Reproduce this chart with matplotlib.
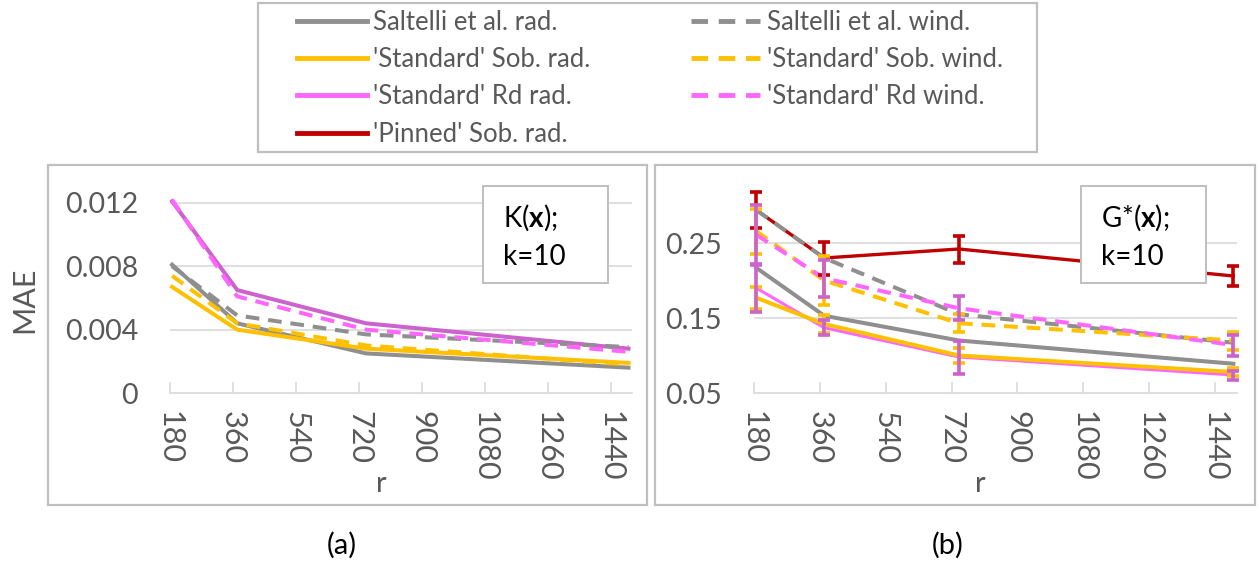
import matplotlib.pyplot as plt
import numpy as np
from matplotlib.lines import Line2D
from matplotlib.patches import Rectangle

plt.rcParams['font.family'] = ['Lato', 'DejaVu Sans']
plt.rcParams['mathtext.fontset'] = 'custom'
plt.rcParams['mathtext.rm'] = 'Lato'
plt.rcParams['mathtext.bf'] = 'Lato:bold'

# ---- datos ----
r = [186, 372, 740, 1490]
xticks = [180, 360, 540, 720, 900, 1080, 1260, 1440]

# (a) K(x), k=10
K_salt_rad = [0.0081, 0.0044, 0.0025, 0.0016]
K_salt_wind = [0.0080, 0.0049, 0.0037, 0.0029]
K_sob_rad = [0.0067, 0.0040, 0.0028, 0.0019]
K_sob_wind = [0.0074, 0.0044, 0.0030, 0.0018]
K_rd_rad = [0.0121, 0.0065, 0.0044, 0.0028]
K_rd_wind = [0.0122, 0.0061, 0.0040, 0.0026]

# (b) G*(x), k=10
G_salt_rad = [0.217, 0.153, 0.120, 0.089]
G_salt_wind = [0.294, 0.230, 0.155, 0.117]
G_sob_rad = [0.177, 0.142, 0.100, 0.078]
G_sob_wind = [0.266, 0.200, 0.143, 0.120]
G_rd_rad = [0.190, 0.137, 0.098, 0.074]
G_rd_wind = [0.261, 0.203, 0.163, 0.114]
G_pin_rad = [0.294, 0.230, 0.242, 0.206]

# barras de error
G_sob_rad_err = [0.015, 0.012, 0.010, 0.005]
G_sob_wind_err = [0.030, 0.033, 0.012, 0.012]
G_rd_rad_err = [0.032, 0.010, 0.022, 0.006]
G_rd_wind_err = [0.040, 0.025, 0.016, 0.014]
G_pin_rad_err = [0.024, 0.022, 0.018, 0.013]

labels = ["Saltelli et al. rad.", "'Standard' Sob. rad.", "'Standard' Rd rad.",
          "'Pinned' Sob. rad.", "Saltelli et al. wind.", "'Standard' Sob. wind.",
          "'Standard' Rd wind."]

GRIS = '#8F8F8F'
AMARILLO = '#FFC000'
ROSA = '#FF66FF'
ORQUIDEA = '#CC62CC'
ROJO = '#C00000'
TEXTO = '#595959'
BORDE = '#BFBFBF'
GRILLA = '#D9D9D9'
guion = (0, (3.4, 2.2))

W, H = 1259, 563
fig = plt.figure(figsize=(W / 100, H / 100), dpi=100)

def fx(px):
    return px / W

def fy(py):
    return 1 - py / H

# marcos de los paneles y de la leyenda
for x0, x1, y0, y1 in [(48, 647, 165, 505), (655, 1255, 165, 505), (258, 1037, 3, 152)]:
    fig.patches.append(Rectangle((fx(x0), fy(y1)), fx(x1 - x0), (y1 - y0) / H,
                                 transform=fig.transFigure, fill=False,
                                 edgecolor=BORDE, lw=1.6))

ax1 = fig.add_axes([fx(170), fy(393), fx(462), (393 - 195) / H])
ax2 = fig.add_axes([fx(754), fy(393), fx(483), (393 - 190.5) / H])

def estilo(ax, yticks, fmt):
    ax.set_xlim(180, 1500)
    ax.set_xticks(xticks)
    ax.set_xticklabels([str(t) for t in xticks], rotation=-90)
    ax.set_yticks(yticks)
    ax.set_yticklabels([fmt(v) for v in yticks])
    for s in ['top', 'right', 'left']:
        ax.spines[s].set_visible(False)
    ax.spines['bottom'].set_color(GRILLA)
    ax.spines['bottom'].set_linewidth(1.2)
    ax.tick_params(axis='x', direction='in', length=8, color=GRILLA, width=1.2,
                   labelsize=22, labelcolor=TEXTO, pad=13)
    ax.tick_params(axis='y', length=0, labelsize=20.5, labelcolor=TEXTO, pad=23)
    for v in yticks[1:]:
        ax.axhline(v, color=GRILLA, lw=1.2, zorder=0)
    ax.set_facecolor('none')

# ---- panel (a) ----
ax1.set_ylim(0, 0.0125)
estilo(ax1, [0, 0.004, 0.008, 0.012], lambda v: '0' if v == 0 else f'{v:.3f}')
ax1.plot(r, K_salt_rad, color=GRIS, lw=2.9, clip_on=False)
ax1.plot(r, K_sob_rad, color=AMARILLO, lw=2.9, clip_on=False)
ax1.plot(r, K_rd_rad, color=ORQUIDEA, lw=2.9, clip_on=False)
ax1.plot(r, K_salt_wind, color=GRIS, lw=2.9, ls=guion, clip_on=False)
ax1.plot(r, K_sob_wind, color=AMARILLO, lw=2.9, ls=guion, clip_on=False)
ax1.plot(r, K_rd_wind, color=ROSA, lw=2.9, ls=guion, clip_on=False)

# ---- panel (b) ----
ax2.set_ylim(0.05, 0.32)
estilo(ax2, [0.05, 0.15, 0.25], lambda v: f'{v:.2f}')
ax2.plot(r, G_pin_rad, color=ROJO, lw=2.4, clip_on=False, zorder=2)
ax2.plot(r, G_salt_rad, color=GRIS, lw=2.9, clip_on=False, zorder=2)
ax2.plot(r, G_rd_rad, color=ROSA, lw=2.2, clip_on=False, zorder=2)
ax2.plot(r, G_sob_rad, color=AMARILLO, lw=2.9, clip_on=False, zorder=2)
ax2.plot(r, G_salt_wind, color=GRIS, lw=2.9, ls=guion, clip_on=False, zorder=2)
ax2.plot(r, G_sob_wind, color=AMARILLO, lw=2.9, ls=guion, clip_on=False, zorder=2)
ax2.plot(r, G_rd_wind, color=ROSA, lw=2.9, ls=guion, clip_on=False, zorder=2)

errores = [(G_pin_rad, G_pin_rad_err, ROJO),
           (G_sob_wind, G_sob_wind_err, AMARILLO),
           (G_sob_rad, G_sob_rad_err, AMARILLO),
           (G_rd_wind, G_rd_wind_err, ORQUIDEA),
           (G_rd_rad, G_rd_rad_err, ORQUIDEA)]
for vals, err, col in errores:
    eb = ax2.errorbar(r, vals, yerr=err, fmt='none', ecolor=col, elinewidth=2.6,
                      capsize=4, capthick=2.6, zorder=3)
    for c in eb.lines[1] + eb.lines[2]:
        c.set_clip_on(False)

# cajas de texto
for x0, txt in [(483, 'K($\\mathbf{x}$);\nk=10'), (1081, 'G*($\\mathbf{x}$);\nk=10')]:
    fig.patches.append(Rectangle((fx(x0), fy(283)), fx(125), 97 / H,
                                 transform=fig.transFigure, facecolor='white',
                                 edgecolor=BORDE, lw=1.4, zorder=5))
    fig.text(fx(x0 + 20), fy(236), txt, fontsize=20, color='black',
             va='center', ha='left', linespacing=1.5, zorder=6)

fig.text(fx(24), fy(300), 'MAE', rotation=90, fontsize=22, color=TEXTO,
         ha='center', va='center')
fig.text(fx(381), fy(484), 'r', fontsize=21, color=TEXTO, ha='center', va='center')
fig.text(fx(980), fy(484), 'r', fontsize=21, color=TEXTO, ha='center', va='center')
fig.text(fx(342), fy(545), '(a)', fontsize=21, color='black', ha='center', va='center')
fig.text(fx(948), fy(545), '(b)', fontsize=21, color='black', ha='center', va='center')

# leyenda común
colores = [GRIS, AMARILLO, ROSA, ROJO, GRIS, AMARILLO, ROSA]
estilos = ['-', '-', '-', '-', guion, guion, guion]
handles = [Line2D([], [], color=c, lw=3.5, ls=s) for c, s in zip(colores, estilos)]
fig.legend(handles, labels, ncol=2, loc='center', bbox_to_anchor=(fx(650), fy(78)),
           frameon=False, fontsize=18.5, labelcolor=TEXTO, handlelength=2.7,
           handletextpad=0.25, columnspacing=3.9, labelspacing=0.48)

fig.savefig('out.png', dpi=100)
